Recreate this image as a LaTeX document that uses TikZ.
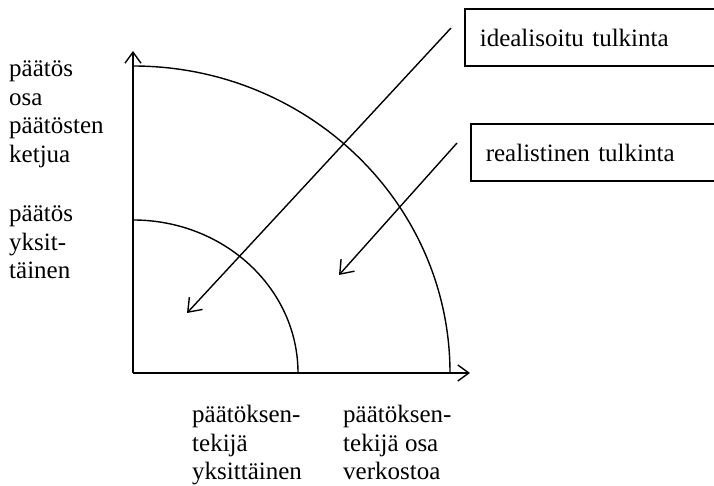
\documentclass[tikz,border=0pt]{standalone}
\usepackage{fontspec}
\setmainfont{Liberation Serif}
\usetikzlibrary{arrows.meta, positioning}

\begin{document}
\begin{tikzpicture}[
    x=1pt, y=1pt,
    font=\fontsize{25}{28.5}\selectfont,
    axis/.style={line width=1.4pt, -{Straight Barb[length=11pt, width=16pt, line width=1.4pt]}},
    pointer/.style={line width=1.4pt, -{Straight Barb[length=12pt, width=18pt, line width=1.4pt]}},
    curve/.style={line width=1.4pt},
    tag/.style={draw, line width=1.6pt, anchor=west, align=left,
        text width=250pt, minimum height=57pt, inner xsep=15pt},
    axlabel/.style={anchor=north west, align=left, inner sep=0pt},
]
\useasboundingbox (0,0) rectangle (714,486);

% akselit
\coordinate (O) at (133,113);
\coordinate (ytip) at (133,435);
\coordinate (xtip) at (470,113);
\draw[axis] (O) -- (ytip);
\draw[axis] (O) -- (xtip);

% kaaret
\coordinate (outtop) at (133,420);
\coordinate (intop) at (133,266);
\draw[curve] (outtop) arc[start angle=90, end angle=0, x radius=317pt, y radius=307pt];
\draw[curve] (intop) arc[start angle=90, end angle=0, x radius=165pt, y radius=153pt];

% tulkinnat
\node[tag] (ideal) at (464,448.5) {idealisoitu tulkinta};
\node[tag] (real) at (470,333.5) {realistinen tulkinta};

\coordinate (s1) at (451,458);
\coordinate (t1) at (187,173);
\coordinate (s2) at (457,343);
\coordinate (t2) at (339,211);
\draw[pointer] (s1) -- (t1);
\draw[pointer] (s2) -- (t2);

% akselien tekstit
\node[axlabel] (ketju) at (9,425) {päätös\\osa\\päätösten\\ketjua};
\node[axlabel] (yksi) at (9,280) {päätös\\yksit-\\täinen};
\node[axlabel] (tekija) at (192,81) {päätöksen-\\tekijä\\yksittäinen};
\node[axlabel] (verkko) at (343,81) {päätöksen-\\tekijä osa\\verkostoa};

\end{tikzpicture}
\end{document}
